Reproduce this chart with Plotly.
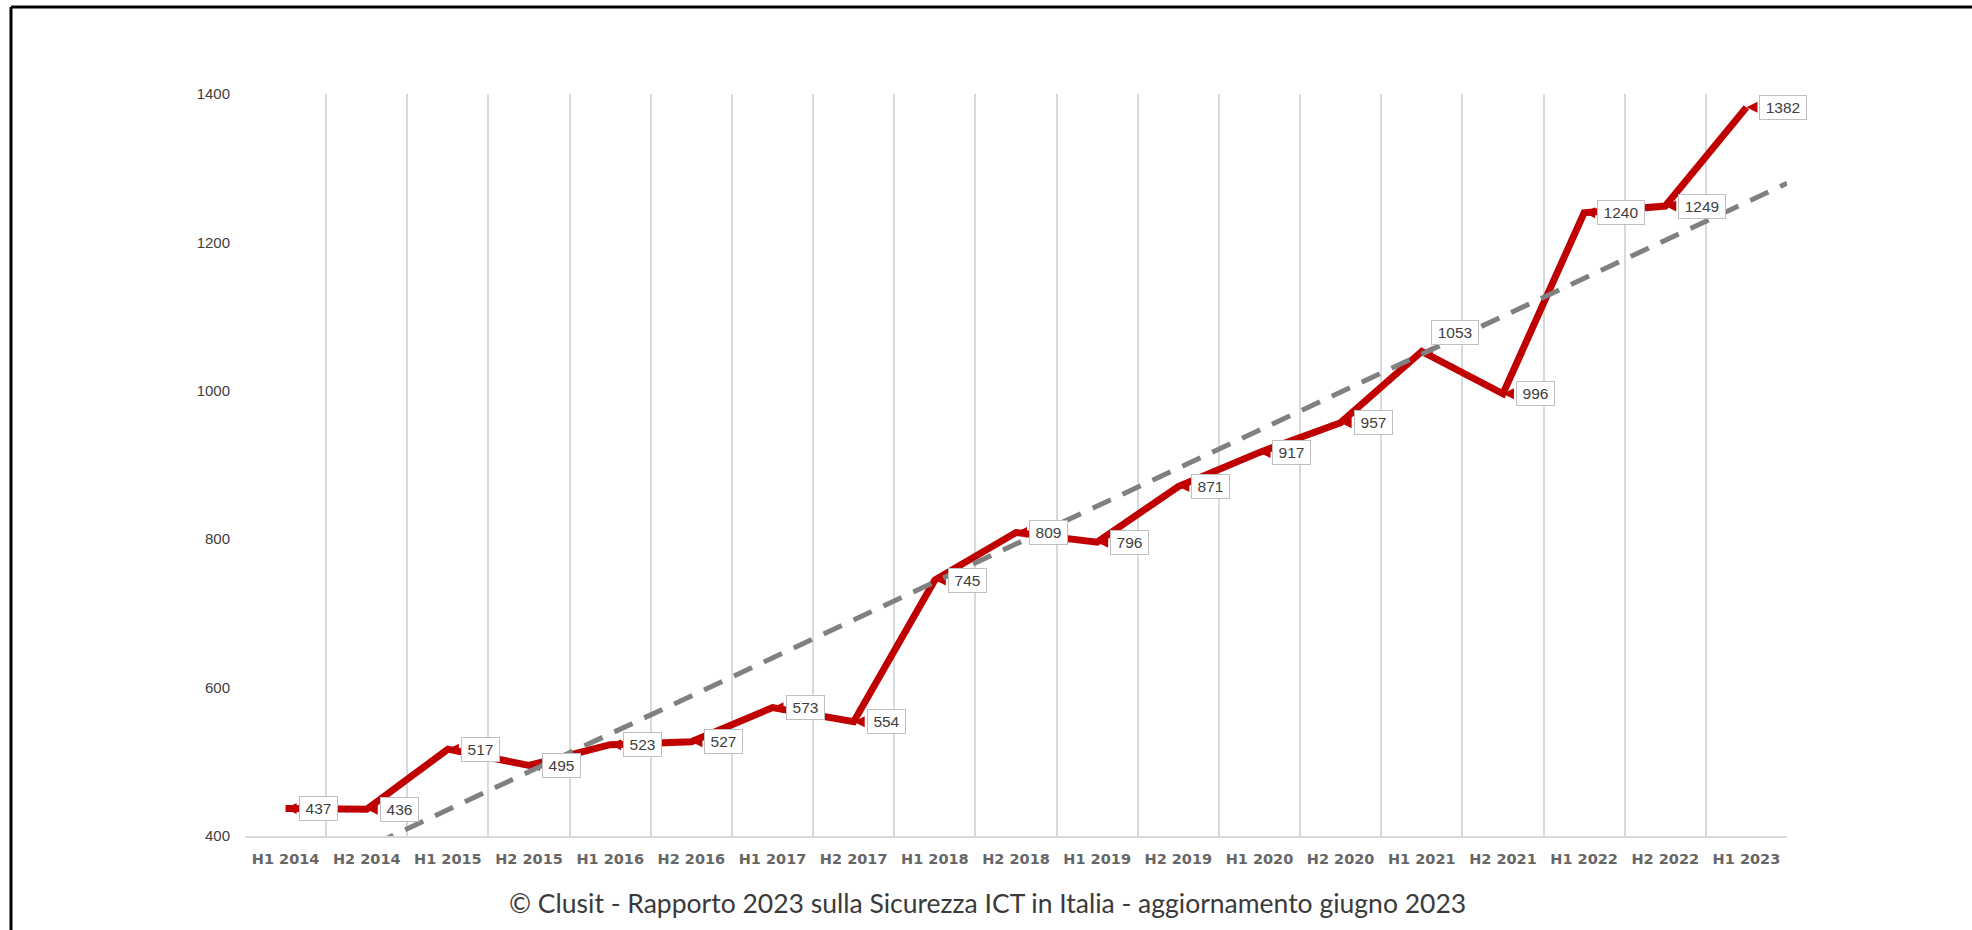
import numpy as np
import plotly.graph_objects as go

# ---- data ----
periods = ["H1 2014", "H2 2014", "H1 2015", "H2 2015", "H1 2016", "H2 2016",
           "H1 2017", "H2 2017", "H1 2018", "H2 2018", "H1 2019", "H2 2019",
           "H1 2020", "H2 2020", "H1 2021", "H2 2021", "H1 2022", "H2 2022",
           "H1 2023"]
attacks = [437, 436, 517, 495, 523, 527, 573, 554, 745, 809, 796, 871,
           917, 957, 1053, 996, 1240, 1249, 1382]
y_ticks = [400, 600, 800, 1000, 1200, 1400]
caption = "© Clusit - Rapporto 2023 sulla Sicurezza ICT in Italia - aggiornamento giugno 2023"

# ---- layout constants ----
W, H = 1972, 930
L, R, T, B = 245, 185, 94, 94
PW, PH = W - L - R, H - T - B

def xp(px):
    return (px - L) / PW

def yp(py):
    return (H - B - py) / PH

RED = "#C00000"
GREY = "#808080"
GRID = "#D9D9D9"

x_idx = list(range(len(periods)))
slope, intercept = np.polyfit(x_idx, attacks, 1)
trend_x = [0, len(periods) - 0.5]
trend_y = [intercept + slope * x for x in trend_x]

fig = go.Figure()

fig.add_trace(go.Scatter(
    x=x_idx, y=attacks, mode="lines+markers",
    line=dict(color=RED, width=7),
    marker=dict(symbol="arrow-left", size=11, color=RED, line=dict(width=0)),
    hoverinfo="skip", showlegend=False,
))

fig.add_trace(go.Scatter(
    x=trend_x, y=trend_y, mode="lines",
    line=dict(color=GREY, width=5, dash="20px,13px"),
    hoverinfo="skip", showlegend=False,
))

# data labels
label_dx = [13] * len(attacks)
label_dy = [0] * len(attacks)
label_dx[14] = 9
label_dy[14] = 19
for i, v in enumerate(attacks):
    txt = str(v)
    fig.add_annotation(
        x=i, y=v, xref="x", yref="y", text=txt, showarrow=False,
        xanchor="left", yanchor="middle",
        xshift=label_dx[i], yshift=label_dy[i],
        font=dict(family="Liberation Sans", size=15.5, color="#404040"),
        bgcolor="white", bordercolor="#BFBFBF", borderwidth=1, borderpad=3,
        width=9 * len(txt) + 4, height=17,
    )

# caption
fig.add_annotation(
    x=xp(987), y=yp(903), xref="paper", yref="paper", text=caption,
    showarrow=False, xanchor="center", yanchor="middle",
    font=dict(family="Lato", size=26.5, color="#3a3a3a"),
)

# frame (left and top edges)
fig.add_shape(type="line", xref="paper", yref="paper",
              x0=xp(11), y0=yp(7), x1=xp(W + 5), y1=yp(7),
              line=dict(color="black", width=3))
fig.add_shape(type="line", xref="paper", yref="paper",
              x0=xp(11), y0=yp(7), x1=xp(11), y1=yp(H + 5),
              line=dict(color="black", width=3))

fig.update_layout(
    width=W, height=H,
    margin=dict(l=L, r=R, t=T, b=B),
    paper_bgcolor="white", plot_bgcolor="white",
    showlegend=False,
)

fig.update_xaxes(
    range=[-0.5, len(periods) - 0.5],
    tickmode="array", tickvals=x_idx, ticktext=periods,
    showgrid=False, zeroline=False,
    showline=True, linecolor=GRID, linewidth=2,
    ticks="", ticklabelstandoff=9,
    tickfont=dict(family="DejaVu Sans", size=14.5, color="#666666", weight="bold"),
    minor=dict(tickvals=[i - 0.5 for i in range(len(periods) + 1)],
               showgrid=True, gridcolor=GRID, gridwidth=1.5, ticks=""),
    fixedrange=True,
)

fig.update_yaxes(
    range=[400, 1400], tickmode="array", tickvals=y_ticks,
    showgrid=False, zeroline=False, showline=False,
    ticks="", ticklabelstandoff=14,
    tickfont=dict(family="Liberation Sans", size=15, color="#404040"),
    fixedrange=True,
)

fig.write_html("out.html")
